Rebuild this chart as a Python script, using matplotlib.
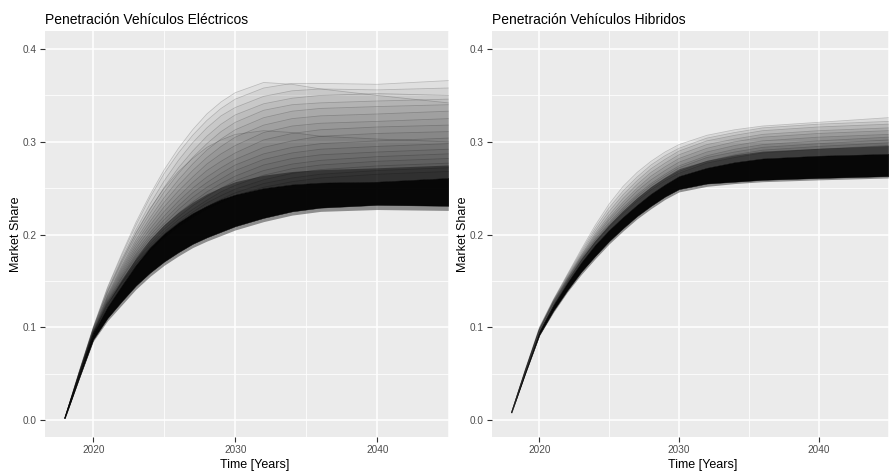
import matplotlib
matplotlib.use("Agg")
import matplotlib.pyplot as plt
from matplotlib.ticker import MultipleLocator

plt.rcParams["font.family"] = ["Liberation Sans", "DejaVu Sans"]

years = [2018, 2019, 2020, 2021, 2022, 2023, 2024, 2025, 2026, 2027, 2028, 2029, 2030, 2032, 2034, 2036, 2040, 2045]

# --- electric vehicles: dense band of runs + the sparse high runs ---
elec_core_lo = [0.002, 0.045, 0.087, 0.110, 0.128, 0.145, 0.159, 0.171, 0.181, 0.190, 0.197, 0.203, 0.209, 0.218, 0.225, 0.229, 0.232, 0.231]
elec_core_hi = [0.002, 0.048, 0.094, 0.122, 0.145, 0.167, 0.186, 0.201, 0.213, 0.223, 0.231, 0.238, 0.243, 0.250, 0.254, 0.256, 0.257, 0.261]
elec_edge_lo = [0.002, 0.044, 0.085, 0.107, 0.124, 0.141, 0.155, 0.167, 0.177, 0.186, 0.193, 0.199, 0.205, 0.214, 0.221, 0.225, 0.227, 0.226]
elec_edge_hi = [0.002, 0.049, 0.096, 0.126, 0.151, 0.175, 0.195, 0.211, 0.224, 0.235, 0.244, 0.251, 0.257, 0.264, 0.268, 0.270, 0.272, 0.275]
elec_runs = [
    [0.002, 0.052, 0.100, 0.142, 0.177, 0.210, 0.240, 0.266, 0.288, 0.307, 0.323, 0.336, 0.346, 0.358, 0.363, 0.363, 0.362, 0.366],
    [0.002, 0.052, 0.100, 0.143, 0.179, 0.213, 0.243, 0.270, 0.293, 0.313, 0.330, 0.343, 0.353, 0.364, 0.362, 0.357, 0.350, 0.342],
    [0.002, 0.051, 0.099, 0.140, 0.174, 0.205, 0.233, 0.258, 0.280, 0.299, 0.315, 0.328, 0.337, 0.349, 0.355, 0.357, 0.356, 0.358],
    [0.002, 0.051, 0.098, 0.138, 0.171, 0.201, 0.227, 0.251, 0.272, 0.290, 0.306, 0.319, 0.329, 0.341, 0.347, 0.350, 0.352, 0.350],
    [0.002, 0.051, 0.098, 0.137, 0.169, 0.198, 0.223, 0.246, 0.266, 0.283, 0.298, 0.311, 0.321, 0.334, 0.340, 0.342, 0.344, 0.346],
    [0.002, 0.050, 0.097, 0.135, 0.166, 0.194, 0.218, 0.240, 0.259, 0.276, 0.291, 0.303, 0.313, 0.326, 0.333, 0.336, 0.338, 0.340],
    [0.002, 0.050, 0.097, 0.134, 0.164, 0.191, 0.214, 0.235, 0.253, 0.269, 0.283, 0.295, 0.305, 0.318, 0.325, 0.328, 0.330, 0.333],
    [0.002, 0.050, 0.096, 0.133, 0.162, 0.188, 0.210, 0.230, 0.247, 0.262, 0.276, 0.287, 0.296, 0.310, 0.317, 0.320, 0.322, 0.325],
    [0.002, 0.051, 0.099, 0.139, 0.172, 0.202, 0.228, 0.250, 0.268, 0.282, 0.294, 0.302, 0.308, 0.312, 0.310, 0.306, 0.303, 0.300],
    [0.002, 0.049, 0.096, 0.132, 0.160, 0.185, 0.206, 0.225, 0.241, 0.256, 0.269, 0.279, 0.288, 0.302, 0.309, 0.313, 0.316, 0.318],
    [0.002, 0.049, 0.095, 0.131, 0.158, 0.182, 0.202, 0.220, 0.236, 0.250, 0.262, 0.272, 0.281, 0.294, 0.301, 0.306, 0.309, 0.311],
    [0.002, 0.049, 0.095, 0.130, 0.156, 0.179, 0.199, 0.216, 0.231, 0.245, 0.256, 0.266, 0.275, 0.287, 0.294, 0.298, 0.301, 0.304],
    [0.002, 0.048, 0.095, 0.129, 0.154, 0.177, 0.196, 0.212, 0.227, 0.240, 0.251, 0.260, 0.269, 0.281, 0.288, 0.292, 0.295, 0.298],
    [0.002, 0.048, 0.094, 0.128, 0.153, 0.175, 0.193, 0.209, 0.223, 0.235, 0.246, 0.255, 0.263, 0.275, 0.282, 0.286, 0.289, 0.292],
    [0.002, 0.048, 0.094, 0.127, 0.151, 0.172, 0.190, 0.206, 0.219, 0.231, 0.241, 0.250, 0.258, 0.269, 0.276, 0.280, 0.284, 0.287],
    [0.002, 0.048, 0.094, 0.127, 0.150, 0.171, 0.188, 0.203, 0.216, 0.227, 0.237, 0.246, 0.253, 0.264, 0.271, 0.275, 0.279, 0.282],
    [0.002, 0.047, 0.093, 0.126, 0.149, 0.169, 0.186, 0.201, 0.213, 0.224, 0.234, 0.242, 0.249, 0.259, 0.266, 0.270, 0.274, 0.277],
    [0.002, 0.047, 0.093, 0.125, 0.148, 0.168, 0.185, 0.199, 0.211, 0.221, 0.230, 0.238, 0.245, 0.255, 0.261, 0.265, 0.269, 0.272],
    [0.002, 0.047, 0.093, 0.125, 0.147, 0.166, 0.183, 0.197, 0.209, 0.219, 0.228, 0.235, 0.242, 0.251, 0.257, 0.261, 0.265, 0.268],
]

# --- hybrid vehicles ---
hyb_core_lo = [0.008, 0.051, 0.092, 0.118, 0.140, 0.160, 0.177, 0.193, 0.207, 0.220, 0.231, 0.241, 0.249, 0.255, 0.257, 0.259, 0.261, 0.263]
hyb_core_hi = [0.008, 0.053, 0.096, 0.124, 0.148, 0.170, 0.189, 0.205, 0.219, 0.232, 0.244, 0.254, 0.263, 0.272, 0.278, 0.282, 0.285, 0.287]
hyb_edge_lo = [0.008, 0.050, 0.091, 0.116, 0.138, 0.157, 0.174, 0.190, 0.204, 0.217, 0.228, 0.238, 0.246, 0.252, 0.255, 0.257, 0.259, 0.261]
hyb_edge_hi = [0.008, 0.054, 0.097, 0.126, 0.151, 0.174, 0.194, 0.211, 0.226, 0.240, 0.252, 0.262, 0.271, 0.280, 0.286, 0.290, 0.293, 0.296]
hyb_runs = [
    [0.008, 0.055, 0.100, 0.130, 0.157, 0.184, 0.210, 0.233, 0.252, 0.267, 0.279, 0.289, 0.297, 0.307, 0.313, 0.317, 0.321, 0.326],
    [0.008, 0.055, 0.099, 0.129, 0.156, 0.182, 0.207, 0.229, 0.247, 0.262, 0.275, 0.285, 0.293, 0.304, 0.310, 0.315, 0.319, 0.322],
    [0.008, 0.054, 0.099, 0.129, 0.155, 0.180, 0.204, 0.225, 0.243, 0.258, 0.271, 0.281, 0.290, 0.301, 0.307, 0.312, 0.316, 0.319],
    [0.008, 0.054, 0.098, 0.128, 0.154, 0.178, 0.201, 0.221, 0.239, 0.254, 0.267, 0.277, 0.286, 0.297, 0.303, 0.308, 0.312, 0.315],
    [0.008, 0.054, 0.098, 0.128, 0.153, 0.177, 0.199, 0.218, 0.235, 0.250, 0.263, 0.273, 0.282, 0.293, 0.300, 0.305, 0.309, 0.312],
    [0.008, 0.054, 0.098, 0.127, 0.152, 0.176, 0.197, 0.216, 0.232, 0.247, 0.259, 0.269, 0.278, 0.289, 0.296, 0.301, 0.305, 0.308],
    [0.008, 0.054, 0.097, 0.127, 0.152, 0.175, 0.195, 0.213, 0.229, 0.243, 0.255, 0.265, 0.274, 0.285, 0.292, 0.297, 0.301, 0.305],
    [0.008, 0.053, 0.097, 0.126, 0.151, 0.174, 0.194, 0.211, 0.227, 0.241, 0.253, 0.263, 0.272, 0.283, 0.289, 0.294, 0.298, 0.302],
    [0.008, 0.053, 0.097, 0.126, 0.150, 0.173, 0.192, 0.209, 0.225, 0.238, 0.250, 0.260, 0.268, 0.279, 0.286, 0.291, 0.295, 0.299],
    [0.008, 0.053, 0.096, 0.125, 0.150, 0.172, 0.191, 0.208, 0.223, 0.236, 0.248, 0.258, 0.266, 0.277, 0.283, 0.288, 0.292, 0.296],
]

y_ticks = [0.0, 0.1, 0.2, 0.3, 0.4]
x_ticks = [2020, 2030, 2040]

fig = plt.figure(figsize=(8.89, 4.72), dpi=100)
W, H = 889, 472


def panel(left, right, title, ylab_x, xlab_x, lo, hi, edge_lo, edge_hi, runs, haze):
    ax = fig.add_axes([left / W, 35 / H, (right - left) / W, 406 / H])
    ax.set_facecolor("#EBEBEB")
    for s in ax.spines.values():
        s.set_visible(False)
    ax.set_xlim(2016.6, 2045.05)
    ax.set_ylim(-0.0183, 0.4195)
    ax.set_xticks(x_ticks)
    ax.set_yticks(y_ticks)
    ax.set_yticklabels([f"{v:.1f}" for v in y_ticks])
    ax.xaxis.set_minor_locator(MultipleLocator(5))
    ax.yaxis.set_minor_locator(MultipleLocator(0.05))
    ax.grid(which="major", color="white", lw=1.1)
    ax.grid(which="minor", color="white", lw=0.55)
    ax.set_axisbelow(True)
    ax.tick_params(which="major", length=3.5, width=0.8, color="#333333",
                   labelcolor="#4D4D4D", labelsize=7.2, pad=2.5)
    ax.tick_params(which="minor", length=0)

    # overlapping runs build up density toward the main band
    for r in runs:
        ax.fill_between(years, hi, r, color="black", alpha=haze, lw=0)
        ax.plot(years, r, color="black", alpha=0.2, lw=0.6)
    ax.fill_between(years, edge_lo, edge_hi, color="black", alpha=0.4, lw=0)
    ax.fill_between(years, lo, hi, color="black", alpha=0.95, lw=0.3)

    fig.text(left / W, 1 - 24 / H, title, fontsize=10, color="black", ha="left", va="baseline")
    fig.text(ylab_x / W, (H - 234) / H, "Market Share", fontsize=9, rotation=90, ha="center", va="center")
    fig.text(xlab_x / W, 1 - 465 / H, "Time [Years]", fontsize=9, ha="center", va="center")
    return ax


panel(45, 449, "Penetración Vehículos Eléctricos", 16, 255,
      elec_core_lo, elec_core_hi, elec_edge_lo, elec_edge_hi, elec_runs, 0.05)
panel(492, 889, "Penetración Vehículos Hibridos", 463, 703,
      hyb_core_lo, hyb_core_hi, hyb_edge_lo, hyb_edge_hi, hyb_runs, 0.08)

fig.savefig("out.png", dpi=100)
